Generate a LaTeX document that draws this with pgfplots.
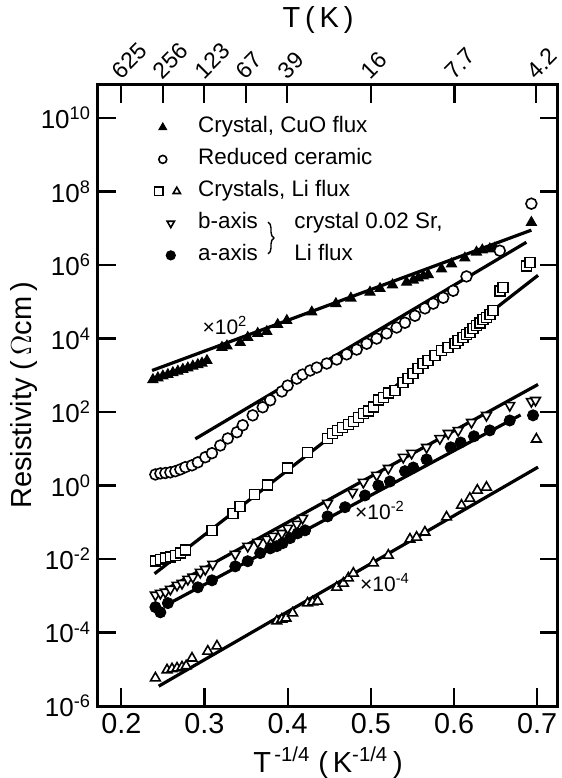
\documentclass[border=0pt]{standalone}
\usepackage{pgfplots}
\pgfplotsset{compat=1.18}
\usepackage{fontspec}
\setmainfont{Liberation Sans}
\usetikzlibrary{decorations.pathreplacing}
\newcommand{\tp}[1]{10\textsuperscript{#1}}
\begin{document}
\begin{tikzpicture}
\begin{axis}[
  scale only axis, width=230pt, height=310.5pt,
  xmin=0.172, xmax=0.725,
  ymode=log, ymin=1e-6, ymax=7.94e10,
  xtick={0.2,0.3,0.4,0.5,0.6,0.7},
  xticklabels={0.2,0.3,0.4,0.5,0.6,0.7},
  ytick={1e-6,1e-4,1e-2,1,1e2,1e4,1e6,1e8,1e10},
  yticklabels={\tp{-6},\tp{-4},\tp{-2},\tp{0},\tp{2},\tp{4},\tp{6},\tp{8},\tp{10}},
  yminorticks=false, xminorticks=false,
  xtick pos=bottom, ytick pos=both, yticklabel pos=left,
  tick align=inside, major tick length=9pt,
  every tick/.append style={line width=1.1pt, black},
  axis line style={line width=1.5pt},
  xticklabel style={font=\fontsize{14.4}{16}\selectfont},
  yticklabel style={font=\fontsize{13}{15}\selectfont},
  label style={font=\fontsize{14.5}{17}\selectfont},
  xlabel={T\textsuperscript{\,-1/4} (\,K\textsuperscript{-1/4}\,)},
  ylabel={Resistivity (\,$\Omega$cm\,)},
  ylabel shift=-5pt,
  legend style={draw=none, fill=none, at={(axis description cs:0.1217,0.9493)}, anchor=north west,
    inner sep=0pt, column sep=0pt, row sep=5.5pt,
    nodes={inner sep=0pt, text height=8pt, text depth=2.5pt, font=\fontsize{11.2}{13}\selectfont},
    cells={anchor=west}},
]
% fit lines
\addplot[forget plot, line width=1.6pt] coordinates {(0.237,1349) (0.693,8.913e6)};
\addplot[forget plot, line width=1.6pt] coordinates {(0.289,18.6) (0.687,4.17e6)};
\addplot[forget plot, line width=1.6pt] coordinates {(0.240,3.98e-3) (0.701,5.25e5)};
\addplot[forget plot, line width=1.6pt] coordinates {(0.250,1.349e-3) (0.701,562)};
\addplot[forget plot, line width=1.6pt] coordinates {(0.255,5.754e-4) (0.680,83.2)};
\addplot[forget plot, line width=1.6pt] coordinates {(0.245,3.467e-6) (0.701,3.162)};
% Crystal, CuO flux (x10^2)
\addplot[forget plot, only marks, mark=triangle*, mark size=2.8pt, mark options={fill=black, line width=0.6pt}] coordinates {
(0.238,7.59e2) (0.244,8.51e2) (0.250,9.55e2) (0.256,1.047e3) (0.262,1.175e3) (0.268,1.288e3)
(0.274,1.445e3) (0.280,1.585e3) (0.286,1.778e3) (0.292,1.950e3) (0.297,2.138e3) (0.303,2.512e3)
(0.321,5.754e3) (0.327,6.310e3) (0.343,7.762e3) (0.352,1.072e4) (0.364,1.380e4) (0.375,1.549e4)
(0.388,2.399e4) (0.399,3.090e4) (0.429,5.248e4) (0.458,8.913e4) (0.476,1.259e5) (0.499,1.820e5)
(0.511,2.291e5) (0.526,2.884e5) (0.543,3.388e5) (0.551,3.890e5) (0.557,4.467e5) (0.563,5.012e5)
(0.569,5.495e5) (0.585,7.762e5) (0.597,1.072e6) (0.613,1.549e6) (0.627,2.239e6) (0.634,2.570e6)
(0.643,2.754e6) (0.649,2.884e6) (0.693,1.445e7)};
% Reduced ceramic
\addplot[forget plot, only marks, mark=*, mark size=2.7pt, mark options={fill=white, line width=0.8pt}] coordinates {
(0.241,2.00) (0.247,2.14) (0.253,2.19) (0.259,2.29) (0.265,2.45) (0.271,2.75) (0.277,3.16)
(0.285,3.55) (0.292,4.27) (0.301,5.89) (0.309,7.59) (0.319,12.3) (0.328,19.1) (0.339,28.2)
(0.346,43.7) (0.358,81.3) (0.370,135) (0.379,209) (0.393,363) (0.400,525) (0.411,813)
(0.418,1047) (0.427,1349) (0.435,1622) (0.447,2089) (0.459,2692) (0.471,3715) (0.483,5012)
(0.495,7244) (0.507,1.0e4) (0.519,1.38e4) (0.531,1.995e4) (0.541,2.69e4) (0.553,4.17e4)
(0.565,6.61e4) (0.575,8.91e4) (0.587,1.288e5) (0.599,1.995e5) (0.615,4.90e5) (0.655,2.455e6)
(0.693,4.68e7)};
% Crystals, Li flux (squares)
\addplot[forget plot, only marks, mark=square*, mark size=2.5pt, mark options={fill=white, line width=0.8pt}] coordinates {
(0.241,8.71e-3) (0.247,9.77e-3) (0.253,1.047e-2) (0.259,1.122e-2) (0.265,1.259e-2) (0.271,1.445e-2)
(0.277,1.738e-2) (0.309,6.03e-2) (0.334,0.174) (0.343,0.269) (0.360,0.575) (0.376,1.023)
(0.400,2.95) (0.424,7.94) (0.448,19.1) (0.454,26.3) (0.460,31.6) (0.466,38.0) (0.473,45.7)
(0.479,55.0) (0.485,70.8) (0.491,91.2) (0.497,105) (0.503,135) (0.509,209) (0.515,251)
(0.521,324) (0.529,389) (0.539,631) (0.545,813) (0.551,1122) (0.557,1514) (0.563,2089)
(0.569,2512) (0.577,3467) (0.585,4677) (0.593,5754) (0.601,7244) (0.605,8913) (0.611,1.072e4)
(0.615,1.288e4) (0.619,1.445e4) (0.623,1.862e4) (0.627,2.239e4) (0.631,2.692e4) (0.635,3.311e4)
(0.639,3.715e4) (0.643,4.467e4) (0.647,5.754e4) (0.655,1.995e5) (0.659,2.455e5) (0.687,9.55e5)
(0.691,1.175e6)};
% b-axis (x10^-2)
\addplot[forget plot, only marks, mark=triangle*, mark size=2.8pt, mark options={rotate=180, fill=white, line width=0.8pt}] coordinates {
(0.241,1.047e-3) (0.247,1.175e-3) (0.253,1.259e-3) (0.259,1.514e-3) (0.267,1.950e-3) (0.273,2.188e-3)
(0.280,2.818e-3) (0.286,3.236e-3) (0.295,4.365e-3) (0.301,5.248e-3) (0.310,7.244e-3) (0.337,1.349e-2)
(0.352,2.239e-2) (0.364,2.884e-2) (0.375,3.467e-2) (0.382,4.169e-2) (0.393,5.012e-2) (0.400,6.918e-2)
(0.411,8.913e-2) (0.418,0.1288) (0.448,0.3311) (0.478,0.6607) (0.491,1.230) (0.507,1.905)
(0.521,2.951) (0.539,5.888) (0.549,7.586) (0.567,10.96) (0.583,19.05) (0.593,26.30) (0.605,31.62)
(0.621,52.48) (0.639,81.28) (0.667,151.4) (0.693,195.0) (0.698,208.9)};
% a-axis (x10^-2)
\addplot[forget plot, only marks, mark=*, mark size=2.8pt, mark options={fill=black}] coordinates {
(0.241,4.898e-4) (0.247,3.548e-4) (0.256,6.310e-4) (0.292,1.698e-3) (0.309,2.630e-3) (0.337,6.310e-3)
(0.352,8.710e-3) (0.367,1.445e-2) (0.379,1.950e-2) (0.387,2.239e-2) (0.394,2.692e-2) (0.403,3.715e-2)
(0.412,5.012e-2) (0.421,6.026e-2) (0.448,0.1445) (0.469,0.2570) (0.493,0.5370) (0.509,1.000)
(0.523,1.288) (0.541,2.455) (0.551,3.090) (0.567,5.129) (0.596,10.96) (0.608,14.79) (0.624,21.88)
(0.643,31.62) (0.667,58.88) (0.695,81.28)};
% Crystals, Li flux (triangles, x10^-4)
\addplot[forget plot, only marks, mark=triangle*, mark size=2.8pt, mark options={fill=white, line width=0.8pt}] coordinates {
(0.241,5.754e-6) (0.255,9.550e-6) (0.261,1.023e-5) (0.267,1.072e-5) (0.273,1.148e-5) (0.278,1.230e-5)
(0.285,1.995e-5) (0.304,3.090e-5) (0.315,4.266e-5) (0.387,2.042e-4) (0.393,2.291e-4) (0.398,2.455e-4)
(0.406,3.388e-4) (0.424,6.310e-4) (0.430,6.761e-4) (0.436,7.079e-4) (0.459,1.698e-3) (0.467,2.188e-3)
(0.473,3.020e-3) (0.479,4.074e-3) (0.503,7.762e-3) (0.521,1.259e-2) (0.547,3.467e-2) (0.555,3.890e-2)
(0.565,5.370e-2) (0.591,0.1380) (0.609,0.2884) (0.619,0.4467) (0.628,0.7413) (0.639,0.8913)
(0.699,18.20)};
% legend
\addlegendimage{legend image code/.code={\path (0pt,-3pt) (21.5pt,3pt);
  \draw[black, fill=black, line width=0.5pt] plot[only marks, mark=triangle*, mark size=2.2pt] coordinates {(4pt,0pt)};}}
\addlegendentry{Crystal, CuO flux}
\addlegendimage{legend image code/.code={\path (0pt,-3pt) (21.5pt,3pt);
  \draw[black, fill=white, line width=0.8pt] plot[only marks, mark=*, mark size=2pt] coordinates {(4pt,0pt)};}}
\addlegendentry{Reduced ceramic}
\addlegendimage{legend image code/.code={\path (0pt,-3pt) (21.5pt,3pt);
  \draw[black, fill=white, line width=0.8pt] plot[only marks, mark=square*, mark size=2.1pt] coordinates {(2pt,0pt)};
  \draw[black, fill=white, line width=0.8pt] plot[only marks, mark=triangle*, mark size=2.1pt] coordinates {(11pt,0pt)};}}
\addlegendentry{Crystals, Li flux}
\addlegendimage{legend image code/.code={\path (0pt,-3pt) (21.5pt,3pt);
  \draw[black, fill=white, line width=0.8pt] plot[only marks, mark=triangle*, mark size=2.1pt, mark options={rotate=180}] coordinates {(8pt,0pt)};}}
\addlegendentry{b-axis}
\addlegendimage{legend image code/.code={\path (0pt,-3pt) (21.5pt,3pt);
  \draw[black, fill=black, line width=0.5pt] plot[only marks, mark=*, mark size=2.3pt] coordinates {(8pt,0pt)};}}
\addlegendentry{a-axis}
\end{axis}
% top temperature axis
\begin{axis}[
  scale only axis, width=230pt, height=310.5pt,
  xmin=0.172, xmax=0.725, ymin=0, ymax=1,
  axis x line*=top, axis y line=none,
  xtick={0.2,0.25,0.2998,0.3497,0.3995,0.5,0.6005,0.6986},
  xticklabels={625,256,123,67,39,16,7.7,4.2},
  xminorticks=false,
  tick align=inside, major tick length=9pt,
  every tick/.append style={line width=1.1pt, black},
  axis line style={line width=1.5pt},
  xticklabel style={rotate=45, anchor=south west, inner sep=1.5pt, font=\fontsize{11.5}{13}\selectfont},
]
\end{axis}
\node[font=\fontsize{14.5}{17}\selectfont] at (110pt,343pt) {T\,(\,K\,)};
% brace annotation
\draw[line width=0.7pt, decorate, decoration={brace, amplitude=3pt}] (85pt,242pt) -- (85pt,226pt);
\node[anchor=west, inner sep=0pt, text height=8pt, text depth=2.5pt, font=\fontsize{11.2}{13}\selectfont] at (98pt,241.5pt) {crystal 0.02 Sr,};
\node[anchor=west, inner sep=0pt, text height=8pt, text depth=2.5pt, font=\fontsize{11.2}{13}\selectfont] at (98pt,225.5pt) {Li flux};
\node[font=\fontsize{10.5}{12}\selectfont] at (63.5pt,190.5pt) {×10\textsuperscript{2}};
\node[font=\fontsize{10.5}{12}\selectfont] at (141pt,98pt) {×10\textsuperscript{-2}};
\node[font=\fontsize{10.5}{12}\selectfont] at (143.5pt,61.5pt) {×10\textsuperscript{-4}};
\pgfresetboundingbox
\path[use as bounding box] (-49pt,-36pt) rectangle (232pt,353pt);
\end{tikzpicture}
\end{document}
